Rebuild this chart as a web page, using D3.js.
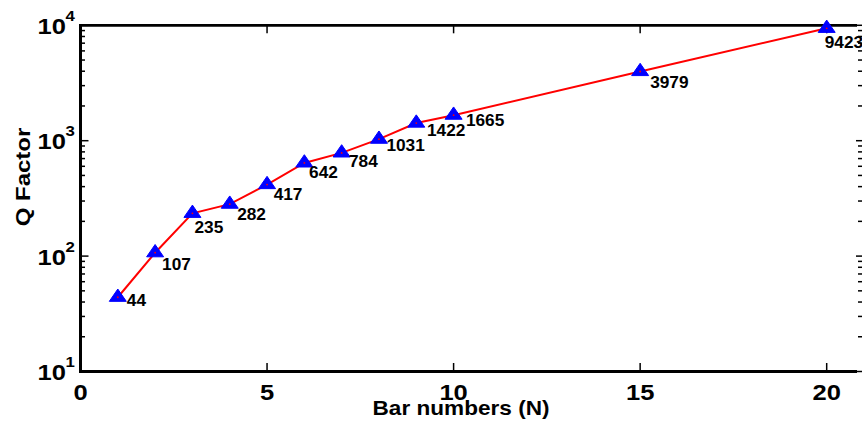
<!DOCTYPE html>
<html><head><meta charset="utf-8">
<script src="https://cdn.jsdelivr.net/npm/d3@7"></script>
<style>
html,body{margin:0;padding:0;background:#fff;}
svg{display:block;}
text{font-family:"Liberation Sans",Arial,Helvetica,sans-serif;font-weight:bold;fill:#000;}
</style></head>
<body>
<svg id="chart" width="862" height="433"></svg>
<script>
// ---- data ----
const barNumbers = [1, 2, 3, 4, 5, 6, 7, 8, 9, 10, 15, 20];
const qFactor    = [44, 107, 235, 282, 417, 642, 784, 1031, 1422, 1665, 3979, 9423];
const xTicks = [0, 5, 10, 15, 20];
const yTickExponents = [1, 2, 3, 4];
const xLabel = "Bar numbers (N)";
const yLabel = "Q Factor";
// label nudges (pixels) relative to each point
const labelDx = [9, 7, 2, 7.4, 6.6, 4.7, 7.3, 7.4, 10.7, 12.3, 10, -2];
const labelDy = [2.7, 11.7, 14, 10, 9.6, 9.3, 8.8, 6.5, 7.5, 5.5, 11, 14];

// ---- layout ----
const svg = d3.select("#chart");
const pLeft = 80.5, pRight = 864, pTop = 25.3, pBottom = 371.5, lineEnd = 857;
const x = d3.scaleLinear().domain([0, 21]).range([pLeft, pRight]);
const y = d3.scaleLog().domain([10, 10000]).range([pBottom, pTop]);

const g = svg.append("g");

const minorVals = [];
for (let e = 1; e < 4; e++) for (let m = 2; m <= 9; m++) minorVals.push(m * Math.pow(10, e));
const majorVals = yTickExponents.map(e => Math.pow(10, e));

g.selectAll(".yminL").data(minorVals).enter().append("line")
  .attr("x1", pLeft).attr("x2", pLeft + 4.5)
  .attr("y1", d => y(d)).attr("y2", d => y(d))
  .attr("stroke", "#000").attr("stroke-width", 1.5);
g.selectAll(".ymajL").data(majorVals).enter().append("line")
  .attr("x1", pLeft).attr("x2", pLeft + 8)
  .attr("y1", d => y(d)).attr("y2", d => y(d))
  .attr("stroke", "#000").attr("stroke-width", 1.5);
g.selectAll(".yminR").data(minorVals).enter().append("line")
  .attr("x1", pRight).attr("x2", pRight - 6)
  .attr("y1", d => y(d)).attr("y2", d => y(d))
  .attr("stroke", "#000").attr("stroke-width", 1.5);
g.selectAll(".ymajR").data(majorVals).enter().append("line")
  .attr("x1", pRight).attr("x2", pRight - 8)
  .attr("y1", d => y(d)).attr("y2", d => y(d))
  .attr("stroke", "#000").attr("stroke-width", 1.5);

g.selectAll(".xtb").data(xTicks).enter().append("line")
  .attr("x1", d => x(d)).attr("x2", d => x(d))
  .attr("y1", pBottom).attr("y2", pBottom - 8.5)
  .attr("stroke", "#000").attr("stroke-width", 1.5);
g.selectAll(".xtt").data(xTicks).enter().append("line")
  .attr("x1", d => x(d)).attr("x2", d => x(d))
  .attr("y1", pTop).attr("y2", pTop + 8)
  .attr("stroke", "#000").attr("stroke-width", 1.5);

g.append("line").attr("x1", pLeft).attr("x2", pLeft).attr("y1", pTop - 1.3).attr("y2", pBottom + 1.5)
  .attr("stroke", "#000").attr("stroke-width", 3);
g.append("line").attr("x1", pLeft - 1.5).attr("x2", lineEnd).attr("y1", pBottom).attr("y2", pBottom)
  .attr("stroke", "#000").attr("stroke-width", 3);
g.append("line").attr("x1", pLeft - 1.5).attr("x2", lineEnd).attr("y1", pTop).attr("y2", pTop)
  .attr("stroke", "#000").attr("stroke-width", 2.7);

g.selectAll(".xtl").data(xTicks).enter().append("text")
  .attr("transform", d => `translate(${x(d)},399.5) scale(1.16,1)`)
  .attr("text-anchor", "middle").attr("font-size", 22)
  .text(d => d);

const yl = g.selectAll(".ytl").data(yTickExponents).enter().append("g")
  .attr("transform", e => `translate(0,${y(Math.pow(10, e))})`);
yl.append("text")
  .attr("transform", "translate(66,8.7) scale(1.16,1)")
  .attr("text-anchor", "end").attr("font-size", 22)
  .text("10");
yl.append("text")
  .attr("transform", "translate(65.5,-4.6) scale(1.12,1)")
  .attr("text-anchor", "start").attr("font-size", 15)
  .text(e => e);

g.append("text")
  .attr("transform", "translate(461,415) scale(1.13,1)")
  .attr("text-anchor", "middle").attr("font-size", 20)
  .text(xLabel);
g.append("text")
  .attr("transform", "translate(29.5,177) rotate(-90) scale(1.2,1)")
  .attr("text-anchor", "middle").attr("font-size", 20)
  .text(yLabel);

const pts = barNumbers.map((b, i) => ({ b, q: qFactor[i], i }));
const line = d3.line().x(d => x(d.b)).y(d => y(d.q));
g.append("path").datum(pts).attr("d", line)
  .attr("fill", "none").attr("stroke", "#ff0000").attr("stroke-width", 2);

const tri = "M0,-8.2 L8.5,4.1 L-8.5,4.1 Z";
g.selectAll(".mk").data(pts).enter().append("path")
  .attr("d", tri)
  .attr("transform", d => `translate(${x(d.b)},${y(d.q)})`)
  .attr("fill", "#0000ff").attr("stroke", "#0000ff").attr("stroke-width", 1);
g.selectAll(".mkc").data(pts).enter().append("circle")
  .attr("cx", d => x(d.b)).attr("cy", d => y(d.q)).attr("r", 0.9)
  .attr("fill", "#ff0000");

g.selectAll(".vl").data(pts).enter().append("text")
  .attr("transform", d => `translate(${x(d.b) + labelDx[d.i]},${y(d.q) + labelDy[d.i] + 5.7}) scale(1.08,1)`)
  .attr("font-size", 16)
  .text(d => d.q);
</script>
</body></html>
